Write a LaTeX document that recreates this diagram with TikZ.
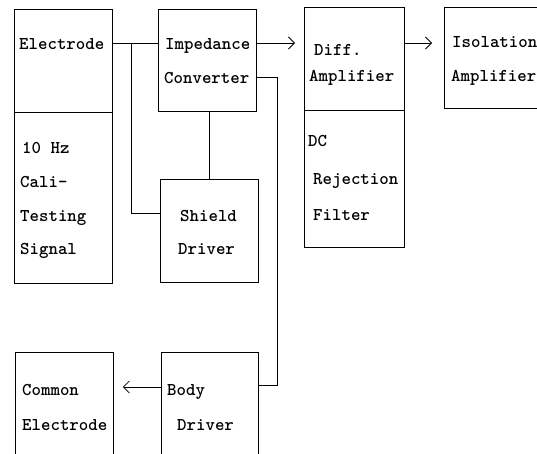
\documentclass[tikz,border=0pt]{standalone}
\usepackage{fontspec}
\usetikzlibrary{arrows.meta}
\begin{document}
\begin{tikzpicture}[x=1pt,y=-1pt,
  blk/.style={draw,line width=0.8pt,inner sep=0pt,anchor=north west},
  lbl/.style={anchor=base west,inner sep=0pt,font=\fontsize{18}{20}\selectfont\ttfamily\bfseries},
  wire/.style={line width=0.8pt},
  sig/.style={wire,-{Straight Barb[length=6pt,width=12pt,line width=0.8pt]},shorten >=9pt}]
\clip (0,0) rectangle (537,454);
% blocks
\node[blk,minimum width=98pt,minimum height=103pt] (elec)   at (14,9)   {};
\node[blk,minimum width=98pt,minimum height=171pt] (cal)    at (14,112) {};
\node[blk,minimum width=98pt,minimum height=102pt] (imp)    at (158,9)  {};
\node[blk,minimum width=98pt,minimum height=103pt] (shield) at (160,179) {};
\node[blk,minimum width=100pt,minimum height=103pt] (diff)  at (304,7)  {};
\node[blk,minimum width=100pt,minimum height=137pt] (dc)    at (304,110) {};
\node[blk,minimum width=110pt,minimum height=101pt] (iso)   at (444,7)  {};
\node[blk,minimum width=97pt,minimum height=130pt] (body)   at (161,352) {};
\node[blk,minimum width=98pt,minimum height=130pt] (common) at (15,352) {};
% labels
\node[lbl] (elecA) at (19,50)  {Electrode};
\node[lbl] (calA)  at (22,154) {10 Hz};
\node[lbl] (calB)  at (20,188) {Cali-};
\node[lbl] (calC)  at (20,221) {Testing};
\node[lbl] (calD)  at (20,254) {Signal};
\node[lbl] (impA)  at (165,50) {Impedance};
\node[lbl] (impB)  at (164,84) {Converter};
\node[lbl] (shA)   at (180,221) {Shield};
\node[lbl] (shB)   at (178,254) {Driver};
\node[lbl] (diffA) at (314,56) {Diff.};
\node[lbl] (diffB) at (309,82) {Amplifier};
\node[lbl] (dcA)   at (308,147) {DC};
\node[lbl] (dcB)   at (313,185) {Rejection};
\node[lbl] (dcC)   at (313,220) {Filter};
\node[lbl] (isoA)  at (452,48) {Isolation};
\node[lbl] (isoB)  at (451,82) {Amplifier};
\node[lbl] (comA)  at (22,395) {Common};
\node[lbl] (comB)  at (22,430) {Electrode};
\node[lbl] (bodyA) at (167,395) {Body};
\node[lbl] (bodyB) at (177,430) {Driver};
% connections
\coordinate (tap) at (131,43);
\coordinate (bend) at (277,77);
\draw[wire] (elec.east |- tap) -- (imp.west |- tap);
\draw[wire] (tap) |- (shield.west |- 0,213);
\draw[wire] (imp.south -| 209,0) -- (shield.north -| 209,0);
\draw[sig] (imp.east |- tap) -- (diff.west |- tap);
\draw[sig,shorten >=12pt] (diff.east |- tap) -- (iso.west |- tap);
\draw[wire] (imp.east |- bend) -- (bend) |- (body.east |- 0,385);
\draw[sig] (body.west |- 0,387) -- (common.east |- 0,387);
\end{tikzpicture}
\end{document}
